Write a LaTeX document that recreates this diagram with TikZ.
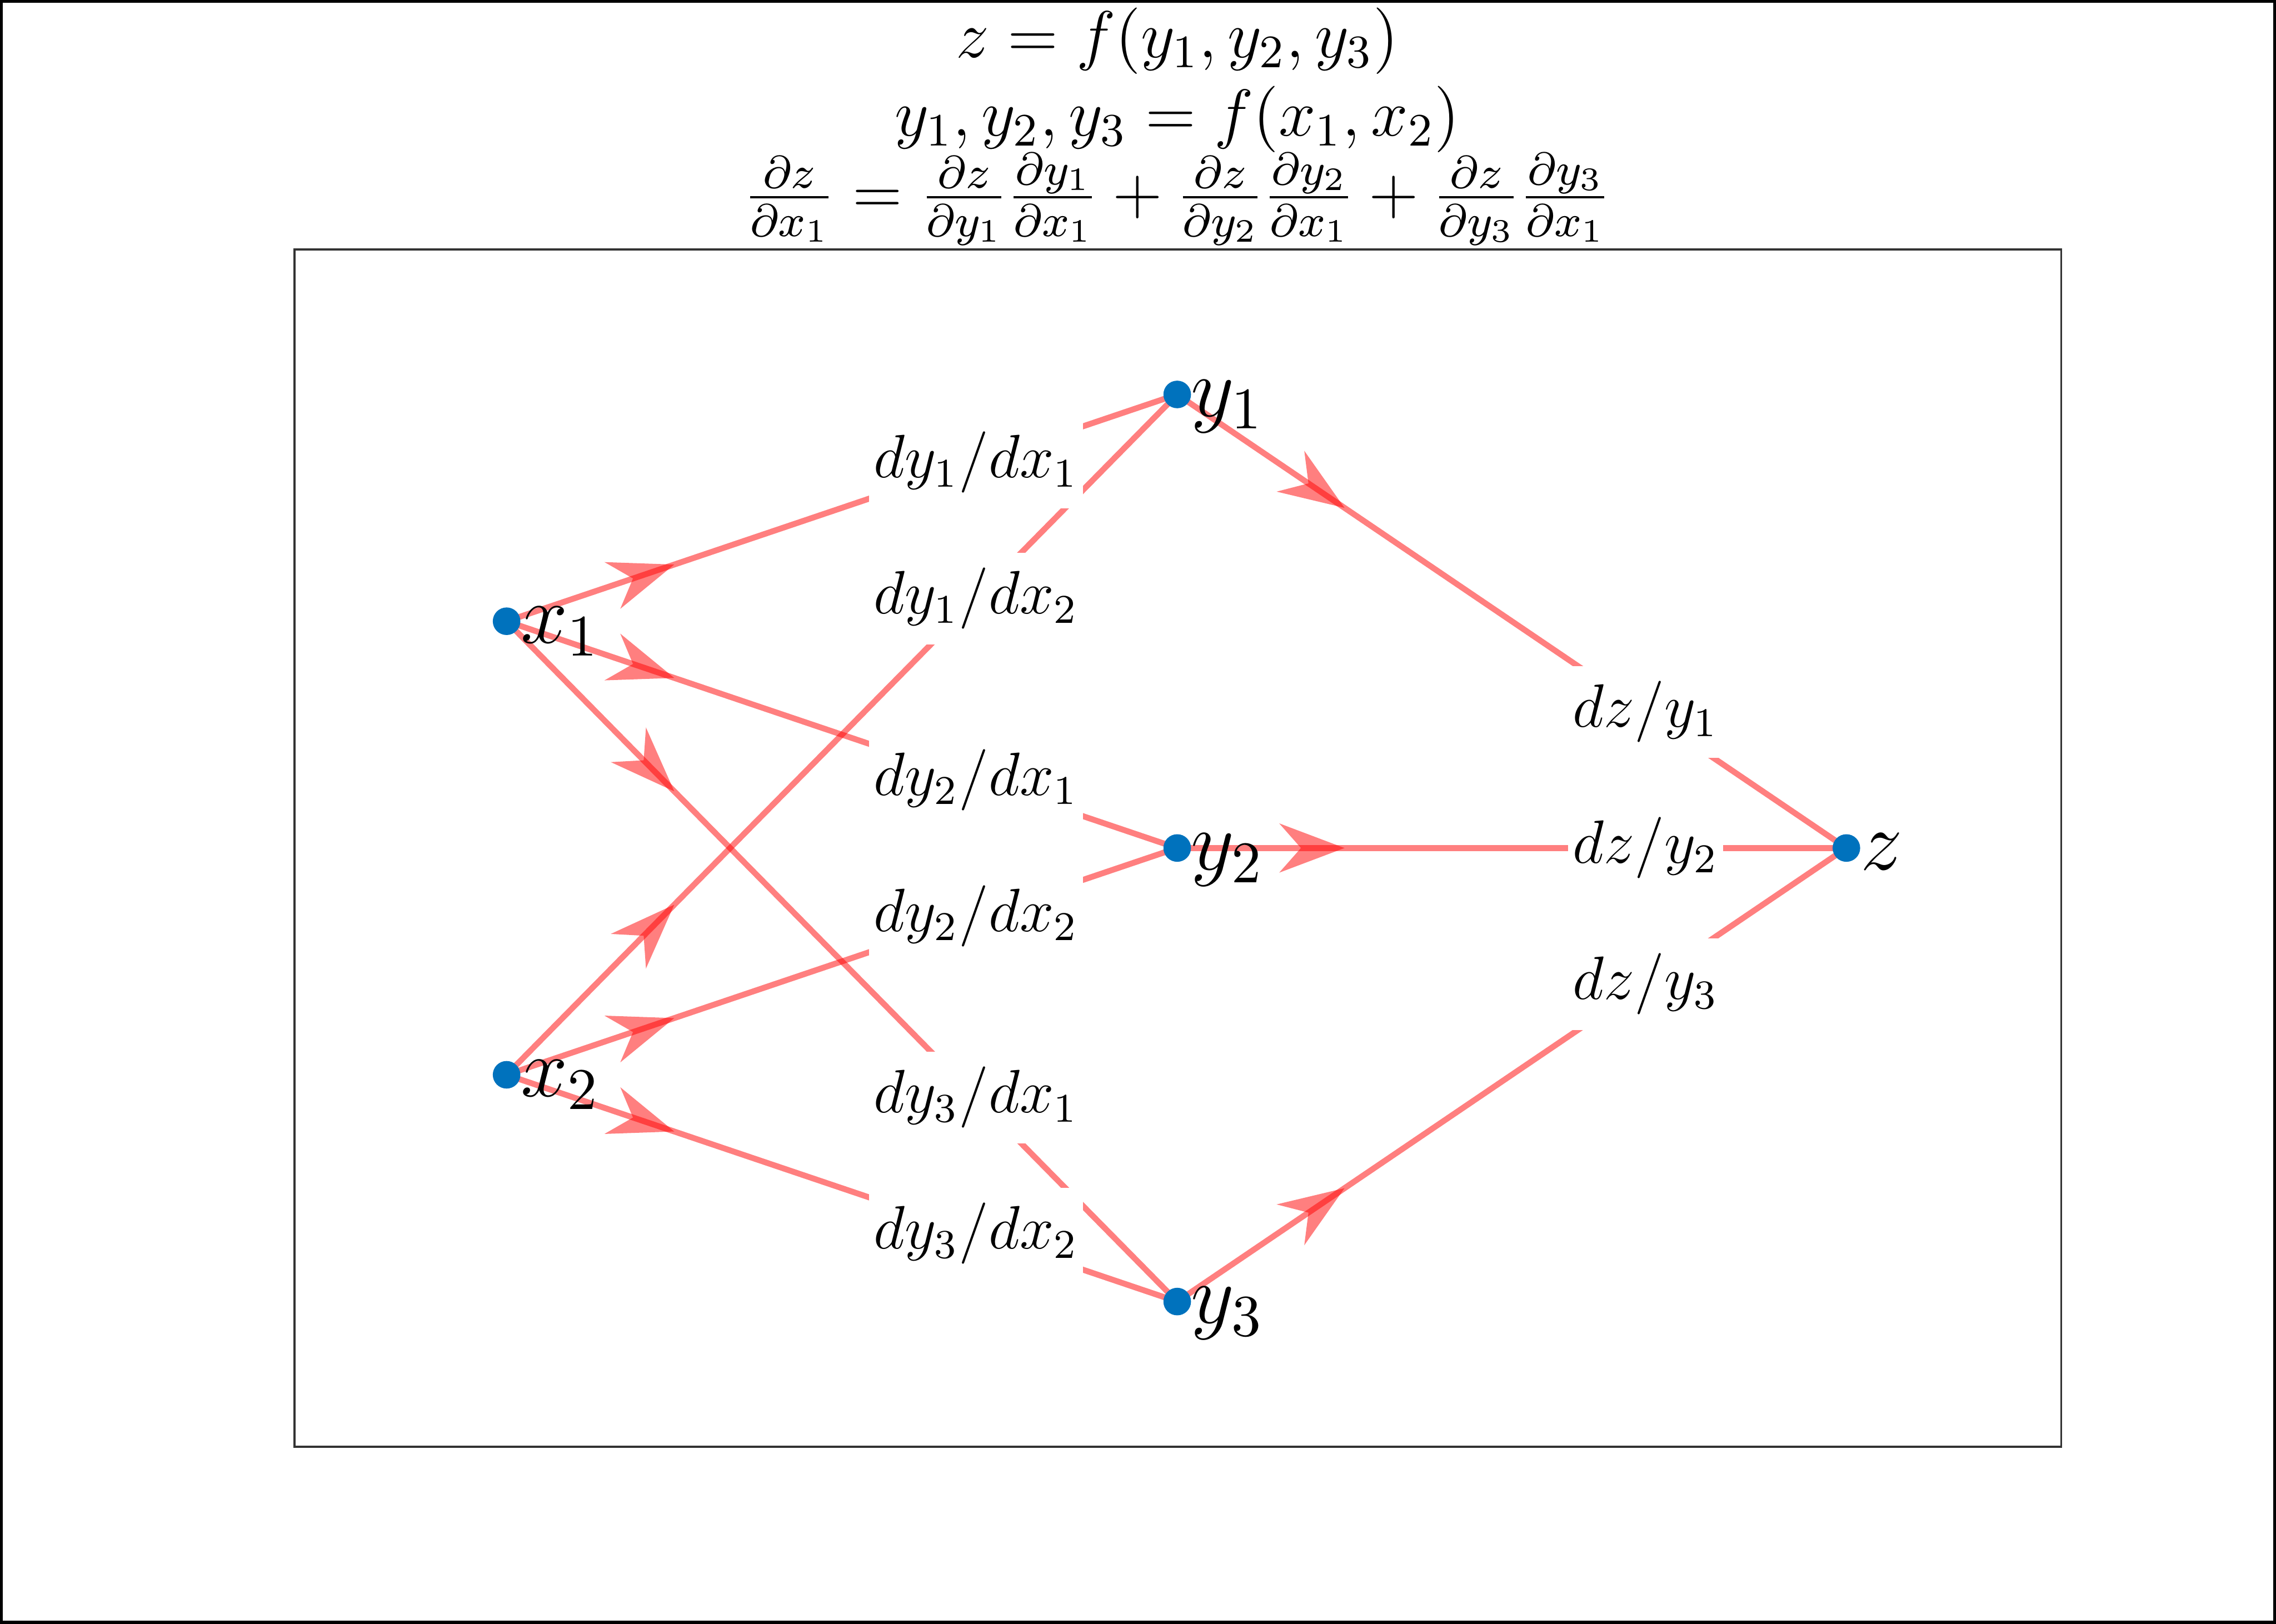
\documentclass[tikz,border=0pt]{standalone}
\usepackage{fix-cm}
\usepackage{amsmath}
\usetikzlibrary{arrows.meta,decorations.markings,backgrounds}
\definecolor{mblue}{RGB}{0,114,189}

\begin{document}
\begin{tikzpicture}
    \tikzset{
      dot/.style={circle,fill=mblue,inner sep=0pt,minimum size=0.19cm},
      nlab/.style={anchor=base west,inner sep=0pt,font=\fontsize{16.5}{19}\selectfont},
      elab/.style={fill=white,inner xsep=1pt,inner ysep=3pt,font=\fontsize{12}{14}\selectfont},
      ttl/.style={anchor=base,inner sep=0pt,font=\fontsize{13}{15}\selectfont},
      edge/.style={draw=red,line width=1.15pt,opacity=0.5,postaction={decorate},
        decoration={markings,mark=at position 0.25 with {\arrow{Stealth[length=0.45cm,width=0.34cm,inset=0.15cm,line width=0pt]}}}}}
    \useasboundingbox (0,0) rectangle (15.68,11.188);
    \draw[line width=0.6pt] (0.01,0.01) rectangle (15.67,11.178);
    \draw[line width=0.4pt,black!80] (2.03,1.22) rectangle (14.20,9.47);
    \node[ttl] (t1) at (8.11,10.79) {$z=f(y_1,y_2,y_3)$};
    \node[ttl] (t2) at (8.11,10.25) {$y_1,y_2,y_3=f(x_1,x_2)$};
    \node[ttl,font=\fontsize{12.8}{15}\selectfont] (t3) at (8.11,9.716) {$\frac{\partial z}{\partial x_1}=\frac{\partial z}{\partial y_1}\frac{\partial y_1}{\partial x_1}+\frac{\partial z}{\partial y_2}\frac{\partial y_2}{\partial x_1}+\frac{\partial z}{\partial y_3}\frac{\partial y_3}{\partial x_1}$};
    \node[dot] (x1) at (3.49,6.9075) {};
    \node[dot] (x2) at (3.49,3.7825) {};
    \node[dot] (y1) at (8.11,8.47) {};
    \node[dot] (y2) at (8.11,5.345) {};
    \node[dot] (y3) at (8.11,2.22) {};
    \node[dot] (z) at (12.72,5.345) {};
    \node[nlab,xshift=0.09cm,yshift=-0.15cm] (x1t) at (x1.center) {$x_1$};
    \node[nlab,xshift=0.09cm,yshift=-0.15cm] (x2t) at (x2.center) {$x_2$};
    \node[nlab,xshift=0.09cm,yshift=-0.15cm] (y1t) at (y1.center) {$y_1$};
    \node[nlab,xshift=0.09cm,yshift=-0.15cm] (y2t) at (y2.center) {$y_2$};
    \node[nlab,xshift=0.09cm,yshift=-0.15cm] (y3t) at (y3.center) {$y_3$};
    \node[nlab,xshift=0.09cm,yshift=-0.15cm] (zt) at (z.center) {$z$};
    \begin{scope}[on background layer]
      \foreach \a/\b in {x1/y1,x1/y2,x1/y3,x2/y1,x2/y2,x2/y3,y1/z,y2/z,y3/z}
        \draw[edge] (\a.center) -- (\b.center);
      \foreach \a/\b/\n/\d in {x1/y1/1/1,x2/y1/1/2,x1/y2/2/1,x2/y2/2/2,x1/y3/3/1,x2/y3/3/2}
        \path (\a.center) -- node[elab,pos=0.7] (l\n\d) {$dy_{\n}/dx_{\d}$} (\b.center);
      \foreach \n in {1,2,3}
        \path (y\n.center) -- node[elab,pos=0.7] (lz\n) {$dz/y_{\n}$} (z.center);
    \end{scope}
\end{tikzpicture}
\end{document}
